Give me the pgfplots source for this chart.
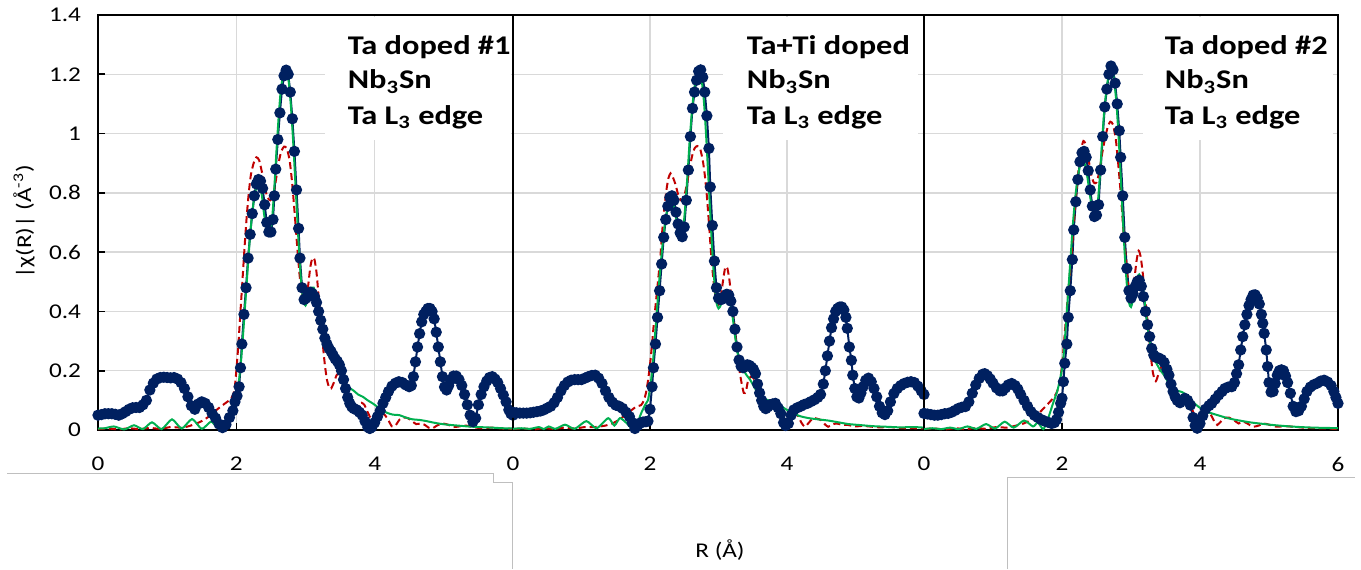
\documentclass[border=0pt]{standalone}
\usepackage{fontspec}
\setmainfont{Carlito}[FakeStretch=1.2]
\usepackage{pgfplots}
\usepackage{pgfplotstable}
\pgfplotsset{compat=1.18}

\definecolor{navy}{RGB}{0,32,96}
\definecolor{fitgreen}{RGB}{0,176,80}
\definecolor{fitred}{RGB}{192,0,0}
\definecolor{gridgray}{RGB}{217,217,217}

% panel 1: Ta doped #1
\pgfplotstableread{
R V
0.00 0.050
0.05 0.052
0.10 0.055
0.15 0.055
0.20 0.055
0.25 0.053
0.30 0.050
0.35 0.055
0.40 0.062
0.45 0.070
0.50 0.075
0.55 0.076
0.60 0.076
0.65 0.085
0.70 0.100
0.75 0.135
0.80 0.158
0.85 0.172
0.90 0.177
0.95 0.178
1.00 0.177
1.05 0.176
1.10 0.177
1.15 0.172
1.20 0.160
1.25 0.140
1.30 0.112
1.35 0.082
1.40 0.070
1.45 0.088
1.50 0.095
1.55 0.090
1.60 0.076
1.65 0.056
1.70 0.040
1.75 0.020
1.80 0.008
1.85 0.018
1.90 0.042
1.95 0.065
1.98 0.095
2.01 0.115
2.04 0.146
2.06 0.21
2.08 0.29
2.11 0.39
2.14 0.48
2.17 0.58
2.20 0.66
2.23 0.73
2.26 0.79
2.29 0.83
2.32 0.845
2.35 0.84
2.38 0.815
2.41 0.76
2.44 0.70
2.47 0.668
2.50 0.668
2.53 0.71
2.55 0.79
2.57 0.88
2.60 0.98
2.63 1.07
2.66 1.15
2.69 1.195
2.72 1.214
2.75 1.20
2.78 1.14
2.81 1.05
2.84 0.94
2.87 0.81
2.90 0.68
2.92 0.58
2.95 0.48
2.98 0.44
3.01 0.445
3.04 0.46
3.07 0.465
3.10 0.46
3.13 0.45
3.16 0.43
3.19 0.40
3.22 0.37
3.25 0.34
3.28 0.31
3.31 0.29
3.34 0.275
3.37 0.265
3.40 0.252
3.43 0.24
3.46 0.232
3.49 0.22
3.52 0.20
3.55 0.17
3.58 0.14
3.61 0.11
3.64 0.09
3.67 0.078
3.70 0.072
3.74 0.068
3.78 0.060
3.82 0.050
3.86 0.030
3.90 0.010
3.93 0.005
3.96 0.010
4.00 0.025
4.04 0.045
4.08 0.065
4.12 0.09
4.16 0.11
4.20 0.13
4.25 0.148
4.30 0.158
4.35 0.163
4.40 0.160
4.45 0.152
4.50 0.146
4.53 0.150
4.56 0.18
4.59 0.23
4.62 0.28
4.65 0.325
4.68 0.365
4.71 0.39
4.74 0.40
4.77 0.41
4.80 0.41
4.83 0.40
4.86 0.375
4.89 0.33
4.92 0.28
4.95 0.23
4.98 0.18
5.01 0.145
5.04 0.135
5.07 0.150
5.10 0.170
5.14 0.182
5.18 0.182
5.22 0.170
5.26 0.150
5.30 0.12
5.34 0.085
5.38 0.050
5.42 0.028
5.46 0.040
5.50 0.085
5.54 0.12
5.58 0.146
5.62 0.165
5.66 0.177
5.70 0.180
5.74 0.172
5.78 0.160
5.82 0.140
5.86 0.118
5.90 0.095
5.94 0.068
5.97 0.055
6.00 0.050
}\dataA
\pgfplotstableread{
R V
0.00 0.005
0.10 0.006
0.23 0.012
0.38 0.002
0.52 0.016
0.65 0.003
0.78 0.026
0.92 0.003
1.07 0.036
1.21 0.005
1.36 0.037
1.50 0.004
1.63 0.028
1.70 0.015
1.77 0.003
1.82 0.020
1.88 0.050
1.94 0.080
2.00 0.115
2.04 0.17
2.07 0.24
2.10 0.33
2.13 0.43
2.16 0.53
2.19 0.63
2.22 0.71
2.25 0.77
2.28 0.81
2.31 0.83
2.34 0.825
2.37 0.79
2.40 0.73
2.43 0.69
2.46 0.67
2.49 0.67
2.52 0.72
2.55 0.82
2.58 0.94
2.61 1.05
2.64 1.14
2.67 1.19
2.70 1.21
2.73 1.21
2.76 1.17
2.79 1.09
2.82 0.98
2.85 0.85
2.88 0.72
2.91 0.59
2.94 0.49
2.97 0.435
3.00 0.42
3.03 0.44
3.06 0.465
3.09 0.48
3.12 0.48
3.15 0.46
3.18 0.42
3.21 0.38
3.24 0.345
3.27 0.315
3.30 0.29
3.33 0.27
3.36 0.255
3.40 0.24
3.44 0.22
3.48 0.20
3.52 0.18
3.56 0.16
3.60 0.148
3.65 0.14
3.70 0.132
3.76 0.12
3.83 0.112
3.90 0.100
3.97 0.09
4.03 0.08
4.10 0.068
4.18 0.058
4.26 0.052
4.36 0.050
4.45 0.042
4.55 0.036
4.65 0.034
4.75 0.030
4.85 0.025
4.95 0.021
5.05 0.018
5.20 0.015
5.35 0.012
5.50 0.010
5.70 0.008
5.85 0.006
6.00 0.005
}\fitgA
\pgfplotstableread{
R V
0.00 0.003
0.15 0.005
0.30 0.002
0.45 0.006
0.60 0.003
0.75 0.007
0.90 0.004
1.05 0.010
1.20 0.008
1.30 0.012
1.40 0.020
1.50 0.030
1.60 0.045
1.70 0.065
1.78 0.080
1.85 0.092
1.92 0.105
1.97 0.130
2.00 0.20
2.03 0.29
2.06 0.40
2.09 0.51
2.12 0.62
2.15 0.72
2.18 0.80
2.21 0.86
2.25 0.90
2.29 0.92
2.33 0.91
2.37 0.87
2.41 0.82
2.45 0.785
2.49 0.775
2.53 0.79
2.57 0.84
2.61 0.90
2.65 0.94
2.69 0.956
2.73 0.95
2.77 0.91
2.80 0.85
2.83 0.77
2.86 0.68
2.89 0.59
2.92 0.51
2.95 0.46
2.98 0.435
3.01 0.44
3.04 0.49
3.07 0.55
3.10 0.58
3.13 0.575
3.16 0.53
3.19 0.45
3.22 0.37
3.25 0.29
3.28 0.22
3.31 0.17
3.34 0.145
3.37 0.14
3.41 0.16
3.45 0.185
3.49 0.19
3.53 0.175
3.57 0.145
3.61 0.11
3.65 0.085
3.69 0.072
3.73 0.075
3.77 0.088
3.81 0.092
3.85 0.085
3.89 0.065
3.93 0.045
3.97 0.032
4.01 0.035
4.05 0.045
4.10 0.055
4.15 0.050
4.20 0.032
4.25 0.012
4.30 0.015
4.36 0.035
4.42 0.042
4.48 0.040
4.54 0.030
4.60 0.020
4.66 0.022
4.72 0.018
4.78 0.008
4.84 0.006
4.90 0.015
4.98 0.022
5.06 0.018
5.14 0.010
5.22 0.012
5.32 0.015
5.42 0.010
5.55 0.006
5.70 0.008
5.85 0.005
6.00 0.004
}\fitrA

% panel 2: Ta+Ti doped
\pgfplotstableread{
R V
0.00 0.060
0.05 0.058
0.10 0.057
0.15 0.057
0.20 0.057
0.25 0.058
0.30 0.060
0.35 0.062
0.40 0.064
0.45 0.068
0.50 0.074
0.55 0.080
0.60 0.092
0.65 0.110
0.70 0.132
0.75 0.150
0.80 0.162
0.85 0.168
0.90 0.170
0.95 0.170
1.00 0.170
1.05 0.175
1.10 0.180
1.15 0.184
1.20 0.185
1.25 0.175
1.30 0.157
1.35 0.132
1.40 0.110
1.45 0.094
1.50 0.084
1.55 0.080
1.60 0.073
1.65 0.060
1.70 0.045
1.74 0.025
1.78 0.005
1.82 0.015
1.86 0.024
1.90 0.027
1.94 0.028
1.97 0.030
2.00 0.07
2.03 0.146
2.05 0.21
2.08 0.29
2.11 0.38
2.14 0.47
2.17 0.56
2.20 0.65
2.23 0.71
2.26 0.755
2.29 0.785
2.32 0.79
2.35 0.775
2.38 0.735
2.41 0.695
2.44 0.665
2.47 0.652
2.50 0.685
2.53 0.775
2.56 0.877
2.59 0.99
2.62 1.085
2.65 1.14
2.68 1.18
2.71 1.21
2.74 1.215
2.77 1.19
2.80 1.14
2.83 1.06
2.86 0.95
2.88 0.82
2.91 0.69
2.94 0.57
2.97 0.48
3.00 0.445
3.03 0.440
3.06 0.442
3.09 0.450
3.12 0.458
3.15 0.455
3.18 0.435
3.21 0.40
3.24 0.34
3.27 0.28
3.30 0.236
3.33 0.215
3.36 0.210
3.39 0.215
3.42 0.220
3.45 0.218
3.48 0.212
3.51 0.205
3.54 0.19
3.57 0.155
3.60 0.125
3.63 0.10
3.66 0.080
3.69 0.072
3.72 0.078
3.75 0.085
3.79 0.088
3.83 0.090
3.87 0.075
3.91 0.055
3.95 0.025
3.98 0.015
4.02 0.022
4.06 0.050
4.10 0.068
4.15 0.075
4.20 0.080
4.25 0.086
4.30 0.090
4.35 0.096
4.40 0.102
4.45 0.110
4.49 0.120
4.53 0.155
4.56 0.20
4.59 0.25
4.62 0.30
4.65 0.345
4.68 0.375
4.71 0.40
4.74 0.41
4.77 0.415
4.80 0.415
4.83 0.405
4.86 0.38
4.88 0.343
4.91 0.28
4.94 0.235
4.96 0.185
4.99 0.14
5.02 0.112
5.05 0.108
5.08 0.125
5.11 0.146
5.15 0.168
5.19 0.175
5.23 0.163
5.27 0.140
5.31 0.112
5.35 0.080
5.39 0.058
5.43 0.052
5.47 0.065
5.51 0.095
5.56 0.123
5.61 0.140
5.66 0.150
5.71 0.157
5.76 0.161
5.81 0.163
5.86 0.160
5.91 0.148
5.96 0.132
6.00 0.120
}\dataB
\pgfplotstableread{
R V
0.00 0.004
0.12 0.006
0.25 0.004
0.38 0.010
0.45 0.003
0.52 0.012
0.62 0.004
0.76 0.018
0.90 0.004
1.07 0.030
1.22 0.006
1.39 0.040
1.48 0.015
1.56 0.040
1.65 0.025
1.72 0.008
1.77 0.004
1.82 0.025
1.87 0.056
1.93 0.085
1.97 0.100
2.01 0.157
2.04 0.22
2.07 0.31
2.10 0.40
2.13 0.49
2.16 0.57
2.19 0.64
2.22 0.70
2.25 0.74
2.28 0.765
2.31 0.775
2.34 0.765
2.37 0.73
2.40 0.69
2.43 0.665
2.46 0.66
2.49 0.69
2.52 0.77
2.55 0.87
2.58 0.98
2.61 1.07
2.64 1.14
2.67 1.185
2.70 1.21
2.73 1.21
2.76 1.17
2.79 1.10
2.82 0.99
2.85 0.86
2.88 0.73
2.91 0.60
2.94 0.50
2.97 0.43
3.00 0.41
3.03 0.42
3.06 0.445
3.09 0.465
3.12 0.47
3.15 0.455
3.18 0.42
3.21 0.375
3.24 0.32
3.27 0.27
3.30 0.235
3.33 0.215
3.37 0.20
3.41 0.185
3.46 0.17
3.51 0.15
3.56 0.13
3.62 0.115
3.68 0.105
3.75 0.098
3.82 0.095
3.88 0.088
3.95 0.075
4.02 0.065
4.10 0.055
4.20 0.046
4.32 0.040
4.45 0.036
4.60 0.032
4.75 0.026
4.90 0.020
5.05 0.017
5.25 0.013
5.45 0.011
5.65 0.009
5.85 0.010
6.00 0.008
}\fitgB
\pgfplotstableread{
R V
0.00 0.003
0.15 0.005
0.30 0.002
0.45 0.006
0.60 0.004
0.75 0.008
0.90 0.005
1.05 0.010
1.20 0.010
1.35 0.015
1.45 0.022
1.55 0.035
1.65 0.052
1.72 0.065
1.80 0.079
1.87 0.084
1.91 0.100
1.94 0.124
1.97 0.165
2.00 0.22
2.03 0.29
2.06 0.37
2.09 0.44
2.12 0.51
2.15 0.58
2.18 0.675
2.21 0.75
2.24 0.81
2.27 0.85
2.30 0.866
2.33 0.855
2.37 0.83
2.41 0.795
2.45 0.775
2.49 0.78
2.53 0.82
2.57 0.87
2.61 0.92
2.65 0.95
2.69 0.958
2.73 0.95
2.77 0.91
2.80 0.86
2.83 0.79
2.86 0.70
2.89 0.60
2.92 0.52
2.95 0.46
2.98 0.425
3.01 0.425
3.04 0.46
3.07 0.51
3.10 0.55
3.13 0.545
3.16 0.505
3.19 0.44
3.22 0.375
3.25 0.31
3.28 0.25
3.31 0.195
3.34 0.155
3.37 0.125
3.40 0.13
3.43 0.165
3.47 0.18
3.51 0.175
3.55 0.16
3.59 0.13
3.63 0.09
3.66 0.068
3.70 0.075
3.75 0.095
3.80 0.092
3.85 0.080
3.90 0.050
3.95 0.028
4.00 0.035
4.05 0.055
4.10 0.056
4.16 0.048
4.21 0.025
4.26 0.011
4.32 0.025
4.38 0.040
4.44 0.038
4.50 0.033
4.55 0.020
4.60 0.011
4.66 0.018
4.72 0.022
4.80 0.018
4.89 0.017
5.00 0.012
5.10 0.014
5.20 0.012
5.35 0.009
5.50 0.010
5.70 0.006
5.85 0.006
6.00 0.005
}\fitrB

% panel 3: Ta doped #2
\pgfplotstableread{
R V
0.00 0.056
0.05 0.054
0.10 0.052
0.15 0.050
0.20 0.050
0.25 0.052
0.30 0.055
0.35 0.056
0.40 0.060
0.45 0.066
0.50 0.073
0.55 0.077
0.60 0.079
0.65 0.095
0.70 0.124
0.75 0.152
0.80 0.174
0.85 0.188
0.88 0.190
0.92 0.183
0.96 0.172
1.00 0.158
1.05 0.142
1.10 0.132
1.14 0.132
1.18 0.142
1.22 0.152
1.27 0.157
1.32 0.150
1.36 0.138
1.40 0.120
1.45 0.100
1.50 0.080
1.55 0.062
1.60 0.050
1.65 0.042
1.70 0.035
1.75 0.030
1.80 0.026
1.85 0.022
1.89 0.025
1.92 0.035
1.95 0.060
1.98 0.090
2.00 0.107
2.02 0.163
2.04 0.225
2.07 0.29
2.09 0.38
2.12 0.47
2.15 0.575
2.17 0.675
2.20 0.77
2.23 0.845
2.26 0.905
2.29 0.935
2.32 0.94
2.35 0.92
2.38 0.875
2.41 0.81
2.44 0.755
2.47 0.72
2.50 0.725
2.53 0.76
2.56 0.877
2.59 0.99
2.62 1.09
2.65 1.15
2.68 1.20
2.71 1.228
2.74 1.215
2.77 1.17
2.80 1.10
2.83 1.01
2.85 0.92
2.88 0.79
2.91 0.65
2.94 0.545
2.97 0.47
3.00 0.445
3.03 0.460
3.06 0.484
3.09 0.500
3.12 0.505
3.15 0.485
3.18 0.45
3.21 0.40
3.24 0.355
3.27 0.315
3.30 0.275
3.33 0.253
3.36 0.245
3.40 0.243
3.44 0.238
3.48 0.228
3.52 0.205
3.55 0.185
3.58 0.155
3.61 0.130
3.64 0.112
3.67 0.100
3.71 0.092
3.75 0.100
3.78 0.107
3.82 0.100
3.86 0.084
3.90 0.042
3.93 0.015
3.96 0.006
4.00 0.022
4.04 0.048
4.08 0.070
4.13 0.082
4.17 0.090
4.22 0.104
4.27 0.118
4.32 0.130
4.36 0.140
4.41 0.145
4.46 0.146
4.50 0.160
4.53 0.190
4.56 0.22
4.59 0.27
4.62 0.315
4.65 0.355
4.68 0.39
4.71 0.42
4.74 0.44
4.77 0.455
4.80 0.456
4.83 0.445
4.86 0.425
4.89 0.39
4.91 0.36
4.93 0.326
4.96 0.27
4.98 0.214
5.00 0.160
5.03 0.128
5.06 0.130
5.09 0.157
5.12 0.185
5.15 0.200
5.18 0.203
5.21 0.200
5.24 0.182
5.27 0.160
5.31 0.124
5.35 0.080
5.39 0.062
5.43 0.065
5.47 0.080
5.51 0.105
5.55 0.130
5.60 0.145
5.65 0.153
5.70 0.158
5.75 0.165
5.80 0.168
5.85 0.162
5.90 0.150
5.94 0.130
5.97 0.110
6.00 0.090
}\dataC
\pgfplotstableread{
R V
0.00 0.003
0.12 0.006
0.25 0.003
0.38 0.008
0.50 0.003
0.63 0.012
0.76 0.004
0.90 0.020
1.03 0.005
1.17 0.028
1.30 0.008
1.45 0.032
1.58 0.012
1.65 0.025
1.73 0.003
1.80 0.040
1.87 0.090
1.93 0.130
1.97 0.170
2.01 0.22
2.04 0.30
2.07 0.40
2.10 0.50
2.13 0.60
2.16 0.70
2.19 0.78
2.22 0.84
2.25 0.88
2.28 0.905
2.31 0.91
2.34 0.89
2.37 0.85
2.40 0.80
2.43 0.755
2.46 0.73
2.49 0.725
2.52 0.77
2.55 0.86
2.58 0.97
2.61 1.07
2.64 1.14
2.67 1.19
2.70 1.22
2.73 1.215
2.76 1.17
2.79 1.10
2.82 0.99
2.85 0.86
2.88 0.72
2.91 0.59
2.94 0.49
2.97 0.43
3.00 0.415
3.03 0.44
3.06 0.48
3.09 0.515
3.12 0.525
3.15 0.51
3.18 0.47
3.21 0.41
3.24 0.35
3.27 0.30
3.30 0.265
3.34 0.24
3.38 0.22
3.43 0.20
3.48 0.185
3.53 0.165
3.58 0.15
3.63 0.138
3.68 0.132
3.74 0.128
3.80 0.118
3.86 0.105
3.92 0.090
3.98 0.078
4.05 0.068
4.12 0.060
4.20 0.054
4.30 0.047
4.40 0.040
4.50 0.035
4.62 0.030
4.75 0.025
4.90 0.021
5.05 0.017
5.25 0.013
5.45 0.010
5.65 0.008
5.85 0.007
6.00 0.006
}\fitgC
\pgfplotstableread{
R V
0.00 0.003
0.15 0.005
0.30 0.002
0.45 0.006
0.60 0.003
0.75 0.007
0.90 0.004
1.05 0.010
1.20 0.008
1.32 0.014
1.42 0.020
1.52 0.030
1.60 0.040
1.68 0.060
1.78 0.084
1.87 0.107
1.92 0.125
1.95 0.146
1.98 0.18
2.01 0.24
2.04 0.326
2.07 0.41
2.10 0.49
2.13 0.57
2.16 0.66
2.19 0.754
2.22 0.83
2.25 0.90
2.28 0.95
2.31 0.975
2.34 0.965
2.38 0.92
2.42 0.865
2.46 0.835
2.50 0.835
2.54 0.87
2.58 0.93
2.62 0.98
2.66 1.02
2.70 1.04
2.74 1.03
2.78 0.98
2.81 0.91
2.84 0.83
2.87 0.74
2.90 0.64
2.93 0.574
2.96 0.49
2.99 0.445
3.02 0.45
3.05 0.51
3.08 0.57
3.11 0.605
3.14 0.585
3.17 0.53
3.20 0.46
3.23 0.39
3.26 0.32
3.29 0.245
3.32 0.19
3.36 0.165
3.40 0.19
3.44 0.212
3.48 0.205
3.52 0.185
3.57 0.146
3.62 0.11
3.67 0.092
3.72 0.095
3.78 0.107
3.83 0.095
3.88 0.073
3.92 0.050
3.95 0.034
3.99 0.042
4.04 0.058
4.10 0.067
4.16 0.050
4.21 0.028
4.25 0.017
4.30 0.028
4.35 0.040
4.42 0.042
4.50 0.032
4.56 0.022
4.63 0.028
4.70 0.020
4.77 0.011
4.85 0.015
4.92 0.022
5.00 0.018
5.11 0.011
5.22 0.013
5.35 0.011
5.50 0.008
5.70 0.006
5.85 0.005
6.00 0.003
}\fitrC

\pgfplotsset{
  panel/.style={
    scale only axis, height=207.5pt, anchor=south west,
    xmin=0, xmax=6, ymin=0, ymax=1.4,
    ytick={0,0.2,0.4,0.6,0.8,1,1.2,1.4},
    grid=major, grid style={gridgray, line width=0.75pt},
    axis line style={black, line width=0.9pt},
    tick align=inside, major tick length=3.5pt,
    tick style={black, line width=0.8pt},
    xtick pos=lower, ytick pos=left,
    clip=false,
    tick label style={font=\fontsize{10.5}{12}\selectfont},
    /pgf/number format/assume math mode=true,
    xticklabel style={yshift=-10pt},
    yticklabel style={xshift=-5pt},
  },
  expdata/.style={navy, line width=1pt, mark=*, mark size=2.3pt,
    mark options={solid, fill=navy, draw=navy}},
  fitg/.style={fitgreen, line width=1pt, smooth, tension=0.4, no marks},
  fitr/.style={fitred, line width=1pt, dash pattern=on 3.5pt off 2pt, smooth, tension=0.4, no marks},
}
\tikzset{boxtext/.style={anchor=base west, font=\fontsize{13.5}{15}\selectfont\bfseries}}

\begin{document}
\begin{tikzpicture}
\path[use as bounding box] (0pt,0pt) rectangle (680.5pt,-284.5pt);

\begin{axis}[panel, at={(49pt,-215pt)}, width=207.5pt, xtick={0,2,4}]
\fill[white] (rel axis cs:0.547,0.699) rectangle (rel axis cs:0.996,0.996);
\addplot[expdata] table {\dataA};
\addplot[fitr] table {\fitrA};
\addplot[fitg] table {\fitgA};
\node[boxtext] at (rel axis cs:0.585,0.906) {Ta doped \#1};
\node[boxtext] at (rel axis cs:0.585,0.822) {Nb\textsubscript{3}Sn};
\node[boxtext] at (rel axis cs:0.585,0.737) {Ta L\textsubscript{3} edge};
\end{axis}

\begin{axis}[panel, at={(256.5pt,-215pt)}, width=205.5pt, xtick={0,2,4},
  yticklabels={}, ytick style={draw=none}]
\fill[white] (rel axis cs:0.511,0.699) rectangle (rel axis cs:0.985,0.996);
\addplot[expdata] table {\dataB};
\addplot[fitr] table {\fitrB};
\addplot[fitg] table {\fitgB};
\node[boxtext] at (rel axis cs:0.552,0.906) {Ta+Ti doped};
\node[boxtext] at (rel axis cs:0.552,0.822) {Nb\textsubscript{3}Sn};
\node[boxtext] at (rel axis cs:0.552,0.737) {Ta L\textsubscript{3} edge};
\end{axis}

\begin{axis}[panel, at={(462pt,-215pt)}, width=207pt, xtick={0,2,4,6},
  yticklabels={}, ytick style={draw=none}]
\fill[white] (rel axis cs:0.529,0.699) rectangle (rel axis cs:0.988,0.996);
\addplot[expdata] table {\dataC};
\addplot[fitr] table {\fitrC};
\addplot[fitg] table {\fitgC};
\node[boxtext] at (rel axis cs:0.565,0.906) {Ta doped \#2};
\node[boxtext] at (rel axis cs:0.565,0.822) {Nb\textsubscript{3}Sn};
\node[boxtext] at (rel axis cs:0.565,0.737) {Ta L\textsubscript{3} edge};
\end{axis}

\node[rotate=90, font=\fontsize{10.5}{12}\selectfont] at (12pt,-111pt)
  {|χ(R)| (Å\textsuperscript{-3})};
\node[font=\fontsize{10.5}{12}\selectfont] at (360pt,-275pt) {R (Å)};

\draw[black!25, line width=0.5pt] (3.5pt,-236.5pt) -- (246.5pt,-236.5pt)
  -- (246.5pt,-241pt) -- (256pt,-241pt) -- (256pt,-284.5pt);
\draw[black!25, line width=0.5pt] (503.5pt,-284.5pt) -- (503.5pt,-238.5pt)
  -- (677.5pt,-238.5pt);
\end{tikzpicture}
\end{document}
